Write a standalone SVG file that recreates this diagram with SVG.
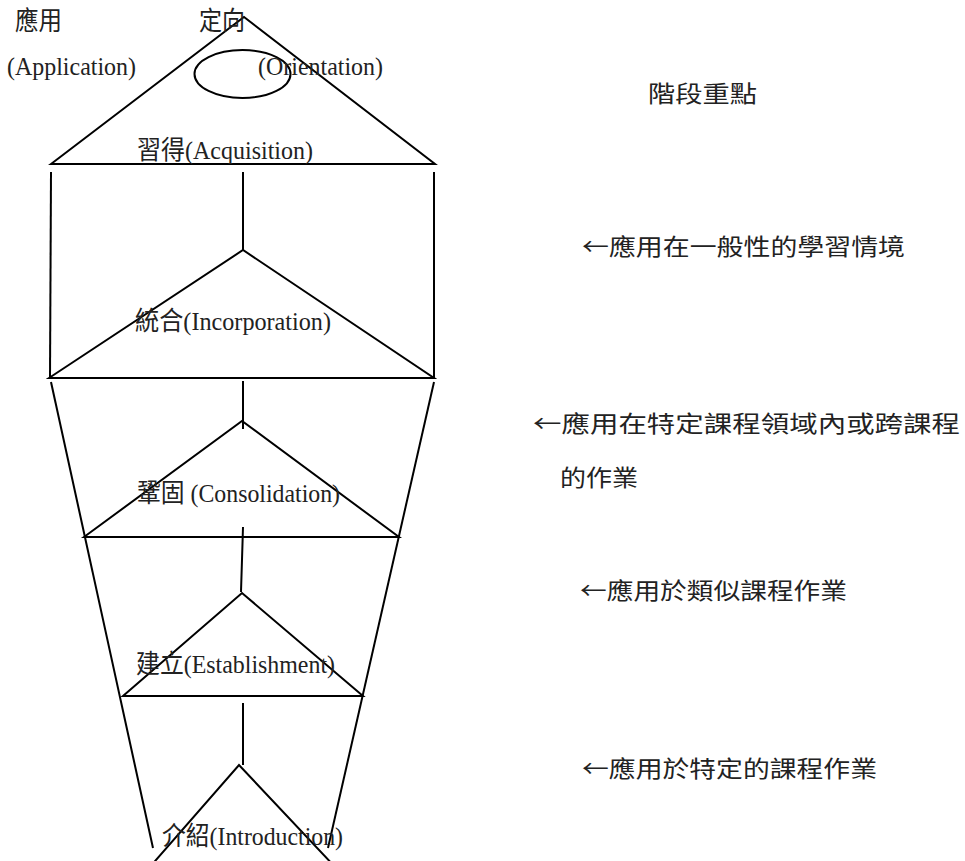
<svg xmlns="http://www.w3.org/2000/svg" width="965" height="861" viewBox="0 0 965 861">
<style>
.s{fill:none;stroke:#000;stroke-width:2;stroke-linejoin:miter}
.t{font-family:"Liberation Serif","Noto Sans CJK TC",serif;font-size:26px;fill:#222}
.c{font-family:"Noto Sans CJK TC","Liberation Serif",sans-serif;font-size:23px;fill:#222}
</style>
<rect width="965" height="861" fill="#fff"/>
<g id="connectors">
<line class="s" x1="51" y1="172" x2="50" y2="378"/>
<line class="s" x1="243" y1="172" x2="243" y2="250"/>
<line class="s" x1="434" y1="172" x2="434" y2="378"/>
<line class="s" x1="243" y1="381" x2="243" y2="429"/>
<line class="s" x1="51" y1="382" x2="153" y2="848"/>
<line class="s" x1="434" y1="382" x2="328" y2="848"/>
<line class="s" x1="243" y1="527" x2="241" y2="592"/>
<line class="s" x1="243" y1="703" x2="243" y2="765"/>
</g>
<g id="acquisition">
<path class="s" d="M51,164 L244,17 L435,164 Z"/>
<ellipse class="s" cx="242.5" cy="74" rx="48" ry="24"/>
<text class="t" x="137" y="159" textLength="176" lengthAdjust="spacingAndGlyphs">習得(Acquisition)</text>
</g>
<g id="application">
<text class="t" x="15" y="30" textLength="47" lengthAdjust="spacingAndGlyphs">應用</text>
<text class="t" x="7" y="75" textLength="129" lengthAdjust="spacingAndGlyphs">(Application)</text>
</g>
<g id="orientation">
<text class="t" x="199" y="30" textLength="46" lengthAdjust="spacingAndGlyphs">定向</text>
<text class="t" x="258" y="75" textLength="125" lengthAdjust="spacingAndGlyphs">(Orientation)</text>
</g>
<g id="incorporation">
<path class="s" d="M49,378 L243,250 L434,378 Z"/>
<text class="t" x="135" y="330" textLength="196" lengthAdjust="spacingAndGlyphs">統合(Incorporation)</text>
</g>
<g id="consolidation">
<path class="s" d="M84,537 L242,421 L399,537 Z"/>
<text class="t" x="137" y="502" textLength="203" lengthAdjust="spacingAndGlyphs">鞏固 (Consolidation)</text>
</g>
<g id="establishment">
<path class="s" d="M123,696 L242,593 L363,696 Z"/>
<text class="t" x="136" y="673" textLength="199" lengthAdjust="spacingAndGlyphs">建立(Establishment)</text>
</g>
<g id="introduction">
<path class="s" d="M149,868 L239,765 L336,868"/>
<text class="t" x="162" y="845" textLength="181" lengthAdjust="spacingAndGlyphs">介紹(Introduction)</text>
</g>
<g id="focus">
<text class="c" x="648" y="102" textLength="109" lengthAdjust="spacingAndGlyphs">階段重點</text>
<text class="c" x="582" y="255" textLength="323" lengthAdjust="spacingAndGlyphs">←應用在一般性的學習情境</text>
<text class="c" x="533" y="432" textLength="427" lengthAdjust="spacingAndGlyphs">←應用在特定課程領域內或跨課程</text>
<text class="c" x="560" y="486" textLength="78" lengthAdjust="spacingAndGlyphs">的作業</text>
<text class="c" x="580" y="599" textLength="267" lengthAdjust="spacingAndGlyphs">←應用於類似課程作業</text>
<text class="c" x="582" y="777" textLength="295" lengthAdjust="spacingAndGlyphs">←應用於特定的課程作業</text>
</g>
</svg>
